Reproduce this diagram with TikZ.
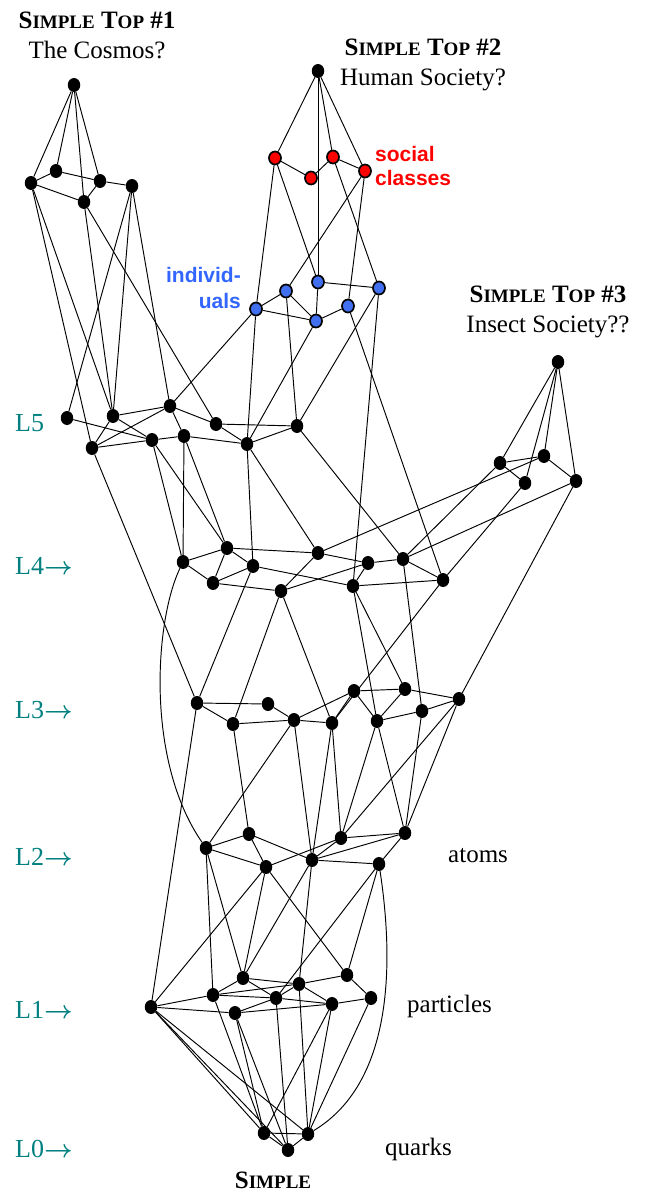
\documentclass[tikz,border=0pt]{standalone}
\usepackage{fontspec}
\setmainfont{Liberation Serif}
\newfontfamily\labelsans{Liberation Sans}
\usetikzlibrary{shapes.geometric}
\pgfdeclarelayer{background}
\pgfsetlayers{background,main}
\definecolor{levelteal}{RGB}{0,128,128}
\definecolor{indivblue}{RGB}{51,102,255}
\definecolor{nodeblue}{RGB}{64,112,240}
\definecolor{classred}{RGB}{255,0,0}
\newcommand\smcap[1]{{\fontsize{19}{20}\selectfont #1}}
\newcommand\levarrow{{\fontsize{28}{30}\selectfont\boldmath$\rightarrow$}}
\tikzset{
  vtx/.style={ellipse, fill=black, inner sep=0pt, minimum width=12.5pt, minimum height=14pt},
  redvtx/.style={ellipse, fill=classred, draw=black, line width=1.7pt, inner sep=0pt, minimum width=12pt, minimum height=13pt},
  bluevtx/.style={ellipse, fill=nodeblue, draw=black, line width=1.7pt, inner sep=0pt, minimum width=12pt, minimum height=13pt},
  link/.style={line width=0.95pt, black},
  toptitle/.style={font=\fontsize{25}{28}\selectfont\bfseries, anchor=base, inner sep=0pt},
  caption/.style={font=\fontsize{25}{28}\selectfont, anchor=base, inner sep=0pt},
  levellabel/.style={font=\fontsize{26}{28}\selectfont, text=levelteal, anchor=base west, inner sep=0pt},
  sidelabel/.style={font=\fontsize{25}{28}\selectfont, anchor=base west, inner sep=0pt},
  grouplabel/.style={font=\labelsans\fontsize{21}{23}\selectfont\bfseries, inner sep=0pt}
}
\begin{document}
\begin{tikzpicture}[x=1pt,y=-1pt]
\useasboundingbox (0,0) rectangle (648,1194);

% titles
\node[toptitle] (top1a) at (97,28) {S\smcap{IMPLE} T\smcap{OP} \#1};
\node[caption]  (top1b) at (97,58) {The Cosmos?};
\node[toptitle] (top2a) at (423,55) {S\smcap{IMPLE} T\smcap{OP} \#2};
\node[caption]  (top2b) at (423,85) {Human Society?};
\node[toptitle] (top3a) at (548,302) {S\smcap{IMPLE} T\smcap{OP} \#3};
\node[caption]  (top3b) at (548,332) {Insect Society??};
\node[toptitle] (bottom) at (273,1188) {S\smcap{IMPLE}};

% level labels
\node[levellabel] (lab5) at (15,431) {L5};
\node[levellabel] (lab4) at (15,574) {L4\levarrow};
\node[levellabel] (lab3) at (15,718) {L3\levarrow};
\node[levellabel] (lab2) at (15,865) {L2\levarrow};
\node[levellabel] (lab1) at (15,1018) {L1\levarrow};
\node[levellabel] (lab0) at (15,1157) {L0\levarrow};
\node[sidelabel] (atoms) at (448,862) {atoms};
\node[sidelabel] (particles) at (407,1012) {particles};
\node[sidelabel] (quarks) at (385,1155) {quarks};

\node[grouplabel, text=classred, anchor=base west] (soc1) at (375,161) {social};
\node[grouplabel, text=classred, anchor=base west] (soc2) at (375,185) {classes};
\node[grouplabel, text=indivblue, anchor=base east] (ind1) at (241,282) {individ-};
\node[grouplabel, text=indivblue, anchor=base east] (ind2) at (241,308) {uals};

% top 1
\node[vtx] (t1) at (74,85) {};
\node[vtx] (a1) at (31,183) {};
\node[vtx] (a2) at (56,171) {};
\node[vtx] (a3) at (100,181) {};
\node[vtx] (a4) at (132,186) {};
\node[vtx] (a5) at (84,202) {};
% top 2
\node[vtx] (t2) at (318,71) {};
\node[redvtx] (r1) at (275,158) {};
\node[redvtx] (r2) at (311,178) {};
\node[redvtx] (r3) at (333,157) {};
\node[redvtx] (r4) at (365,171) {};
\node[bluevtx] (b1) at (256,309) {};
\node[bluevtx] (b2) at (286,291) {};
\node[bluevtx] (b3) at (318,282) {};
\node[bluevtx] (b4) at (316,321) {};
\node[bluevtx] (b5) at (348,306) {};
\node[bluevtx] (b6) at (379,288) {};
% top 3
\node[vtx] (t3) at (558,362) {};
\node[vtx] (c1) at (500,463) {};
\node[vtx] (c2) at (544,456) {};
\node[vtx] (c3) at (525,483) {};
\node[vtx] (c4) at (576,481) {};
% L5
\node[vtx] (n1) at (67,418) {};
\node[vtx] (n2) at (113,416) {};
\node[vtx] (n3) at (170,406) {};
\node[vtx] (n4) at (92,448) {};
\node[vtx] (n5) at (152,440) {};
\node[vtx] (n6) at (184,436) {};
\node[vtx] (n7) at (216,424) {};
\node[vtx] (n8) at (247,444) {};
\node[vtx] (n9) at (297,426) {};
% L4
\node[vtx] (m1) at (183,562) {};
\node[vtx] (m2) at (227,548) {};
\node[vtx] (m3) at (253,566) {};
\node[vtx] (m4) at (213,583) {};
\node[vtx] (m5) at (281,591) {};
\node[vtx] (m6) at (318,553) {};
\node[vtx] (m7) at (368,563) {};
\node[vtx] (m8) at (403,559) {};
\node[vtx] (m9) at (353,586) {};
\node[vtx] (m10) at (443,580) {};
% L3
\node[vtx] (k1) at (197,703) {};
\node[vtx] (k2) at (268,704) {};
\node[vtx] (k3) at (233,724) {};
\node[vtx] (k4) at (294,720) {};
\node[vtx] (k5) at (332,723) {};
\node[vtx] (k6) at (354,691) {};
\node[vtx] (k7) at (405,689) {};
\node[vtx] (k8) at (377,721) {};
\node[vtx] (k9) at (422,711) {};
\node[vtx] (k10) at (459,699) {};
% L2
\node[vtx] (j1) at (206,848) {};
\node[vtx] (j2) at (249,834) {};
\node[vtx] (j3) at (341,838) {};
\node[vtx] (j4) at (405,833) {};
\node[vtx] (j5) at (266,867) {};
\node[vtx] (j6) at (312,860) {};
\node[vtx] (j7) at (379,864) {};
% L1
\node[vtx] (p1) at (151,1007) {};
\node[vtx] (p2) at (213,995) {};
\node[vtx] (p3) at (243,978) {};
\node[vtx] (p4) at (235,1013) {};
\node[vtx] (p5) at (276,998) {};
\node[vtx] (p6) at (299,984) {};
\node[vtx] (p7) at (332,1004) {};
\node[vtx] (p8) at (347,975) {};
\node[vtx] (p9) at (371,998) {};
% L0
\node[vtx] (q1) at (264,1133) {};
\node[vtx] (q2) at (308,1134) {};
\node[vtx] (q3) at (288,1150) {};

\begin{pgfonlayer}{background}
\foreach \u/\v in {
  t1/a1, t1/a2, t1/a5, t1/a3, a1/a2, a2/a3, a3/a4, a1/a5, a5/a3,
  a1/n4, a1/n2, a5/n2, a5/n7, a4/n1, a4/n2, a4/n3,
  t2/r1, t2/b3, t2/r3, t2/r4, r1/r2, r2/r3, r3/r4,
  r1/b1, r1/b3, r4/b2, r4/b5, r3/b6,
  b1/b2, b2/b4, b1/b4, b4/b5, b3/b4, b3/b6,
  b1/n3, b1/n8, b2/n9, b4/n8, b6/n9, b6/m9, b5/m10,
  t3/c1, t3/c2, t3/c3, t3/c4, c1/c2, c1/c3, c2/c4,
  c2/m6, c1/m8, c4/m8, c3/m10, c4/k10,
  n2/n3, n1/n5, n2/n5, n2/n4, n4/n3, n4/n5, n5/n6, n3/n6, n3/n7,
  n7/n8, n7/n9, n6/n8, n8/n9,
  n5/m1, n6/m1, n6/m2, n5/m2, n8/m3, n8/m6, n9/m8, n4/k1,
  m1/m2, m1/m4, m4/m2, m4/m3, m2/m6, m2/m3, m3/m9, m4/m5, m5/m6,
  m5/m7, m6/m7, m7/m8, m8/m10, m9/m10, m7/m9,
  m3/k1, m5/k3, m5/k5, m9/k8, m9/k7, m10/k5, m8/k9,
  k1/k2, k1/k3, k2/k4, k3/k4, k4/k5, k4/k6, k5/k6, k6/k7, k6/k8,
  k7/k8, k7/k10, k8/k9, k9/k10,
  k3/j2, k4/j1, k4/j6, k5/j6, k5/j3, k8/j3, k8/j4, k9/j4, k10/j3, k10/j4,
  k1/p1,
  j1/j2, j1/j5, j2/j5, j2/j6, j5/j3, j6/j3, j6/j4, j3/j4, j6/j7, j7/j4,
  j1/p2, j1/p3, j5/p1, j5/p3, j5/p8, j6/p3, j6/p6, j7/p5, j7/p8,
  p1/p2, p1/p4, p2/p3, p2/p5, p2/p6, p4/p5, p4/p7, p5/p6, p6/p8,
  p6/p7, p7/p9, p8/p9, p3/p5, p3/p6, p5/p7,
  p1/q1, p1/q3, p1/q2, p2/q1, p4/q1, p4/q3, p5/q3, p6/q2, p7/q1,
  p7/q2, p9/q2, q1/q2, q1/q3, q3/q2}
  \draw[link] (\u) -- (\v);
\draw[link] (m1) .. controls (155,620) and (145,760) .. (j1);
\draw[link] (j7) .. controls (392,950) and (398,1080) .. (q2);
\end{pgfonlayer}
\end{tikzpicture}
\end{document}
